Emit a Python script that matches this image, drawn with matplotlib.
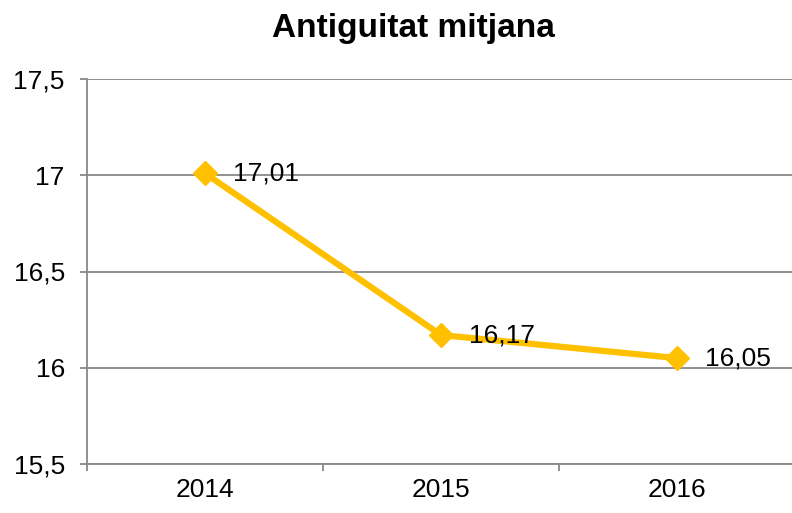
import matplotlib
matplotlib.use("Agg")
import matplotlib.pyplot as plt

years = ["2014", "2015", "2016"]
values = [17.01, 16.17, 16.05]
labels = ["17,01", "16,17", "16,05"]
yticks = [15.5, 16, 16.5, 17, 17.5]
ytick_labels = ["15,5", "16", "16,5", "17", "17,5"]

plt.rcParams['font.family'] = ['Liberation Sans', 'DejaVu Sans']

fig = plt.figure(figsize=(7.92, 5.13), dpi=100)
ax = fig.add_axes([87 / 792, 49 / 513, 708 / 792, 385 / 513])

x = list(range(len(years)))
ax.plot(x, values, color='#FFC000', linewidth=4.5, marker='D', markersize=12.5,
        zorder=3, clip_on=False)
for xi, v, t in zip(x, values, labels):
    ax.annotate(t, (xi, v), xytext=(20, 0), textcoords='offset points',
                va='center', ha='left', fontsize=19, color='black')

ax.set_xlim(-0.5, 2.5)
ax.set_ylim(15.5, 17.5)
ax.set_yticks(yticks)
ax.set_yticklabels(ytick_labels)
ax.set_xticks(x)
ax.set_xticklabels(years)
ax.set_xticks([-0.5, 0.5, 1.5, 2.5], minor=True)
ax.tick_params(axis='x', which='major', length=0, pad=10, labelsize=19)
ax.tick_params(axis='x', which='minor', length=5, color='#888888', width=1.3)
ax.tick_params(axis='y', length=5, color='#888888', width=1.3, pad=11, labelsize=19)

ax.grid(axis='y', color='#888888', linewidth=1.3)
ax.set_axisbelow(True)
for s in ['top', 'right']:
    ax.spines[s].set_visible(False)
for s in ['left', 'bottom']:
    ax.spines[s].set_color('#888888')
    ax.spines[s].set_linewidth(1.3)

fig.text(413 / 792, 1 - 29 / 513, "Antiguitat mitjana", ha='center', va='center',
         fontsize=24, fontweight='bold')

fig.savefig("out.png", dpi=100)
